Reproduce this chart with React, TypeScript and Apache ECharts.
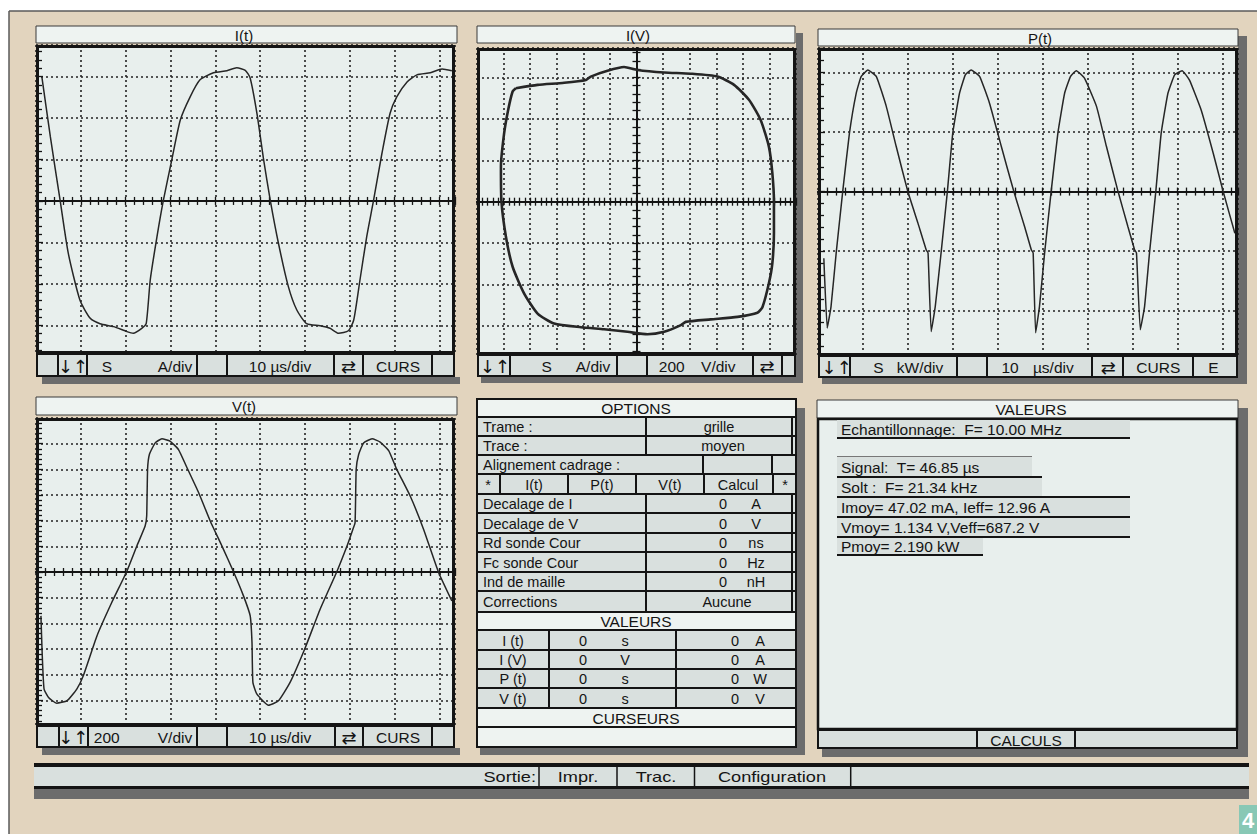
import React, { useEffect, useRef } from "react";
import * as echarts from "echarts";

// ---------------- waveform data ----------------
// I(t): time in µs, current in divisions
const itTime = [1.3, 3.2, 5.4, 7.2, 9.8, 12.1, 14.3, 17.3, 20.3, 21.7, 23.6, 24.6, 25.5, 27.0, 28.4, 30.3, 32.2, 34.4, 36.6, 39.6, 42.6, 44.8, 46.7, 47.8, 49.3, 50.8, 52.3, 54.1, 56.3, 58.2, 60.4, 63.4, 65.6, 67.5, 69.7, 70.9, 72.3, 73.8, 75.3, 77.2, 79.0, 80.5, 82.8, 85.0, 88.0, 90.6, 92.8];
const itCurrent = [3.0, 1.55, 0, -1.26, -2.39, -2.83, -2.96, -3.03, -3.15, -3.19, -3.07, -2.95, -1.9, -0.86, 0, 0.99, 1.95, 2.51, 2.92, 3.09, 3.14, 3.21, 3.15, 2.96, 2.11, 0.99, 0, -1.02, -2.06, -2.63, -2.96, -3.01, -3.07, -3.19, -3.13, -2.87, -1.9, -0.86, 0, 1.15, 2.11, 2.51, 2.87, 3.04, 3.09, 3.18, 3.14];

// V(t): time in µs, voltage in V (200 V/div)
const vtTime = [1.1, 1.4, 1.8, 2.8, 4.6, 6.9, 9.1, 10.6, 13.6, 16.9, 20.3, 22.5, 24.35, 24.7, 24.9, 25.3, 26.6, 28.1, 29.9, 31.8, 33.7, 36.3, 38.9, 41.5, 44.1, 46.3, 47.8, 48.2, 48.4, 49.3, 51.9, 54.1, 56.7, 60.1, 63.4, 67.1, 69.4, 70.7, 71.2, 71.45, 72.0, 73.1, 75.0, 76.8, 78.7, 80.5, 83.5, 86.5, 89.8, 92.8];
const vtVoltage = [-342, -654, -912, -978, -1022, -1004, -912, -804, -498, -238, 8, 202, 358, 436, 800, 916, 1006, 1038, 1020, 954, 812, 618, 396, 202, 0, -186, -342, -550, -860, -952, -1038, -1004, -860, -588, -290, 0, 202, 332, 384, 800, 916, 1006, 1038, 1012, 946, 800, 592, 332, 0, -226];

// P(t): time in µs, power in divisions
const ptTime = [1.3, 2.05, 2.9, 4.05, 5.5, 7.0, 8.5, 9.6, 11.1, 13.0, 15.2, 17.4, 20.0, 22.25, 24.1, 24.5, 25.2, 26.1, 27.4, 28.8, 30.0, 31.5, 32.8, 34.1, 36.0, 38.2, 40.8, 43.6, 46.0, 47.5, 47.9, 48.45, 49.3, 50.45, 51.9, 53.4, 54.9, 56.2, 57.5, 59.35, 62.0, 64.2, 66.8, 69.0, 70.5, 70.9, 71.75, 72.7, 73.8, 75.2, 76.4, 77.9, 79.4, 81.05, 82.7, 85.3, 88.0, 90.2, 92.8];
const ptPower = [-1.12, -2.29, -1.93, -1.03, 0, 0.98, 1.65, 1.93, 2.04, 1.93, 1.43, 0.76, 0, -0.53, -0.98, -1.03, -2.35, -1.93, -1.03, 0, 0.98, 1.65, 1.96, 2.04, 1.93, 1.48, 0.76, 0, -0.59, -0.98, -1.03, -2.37, -1.93, -1.03, 0, 0.98, 1.65, 1.93, 2.03, 1.9, 1.43, 0.76, 0, -0.59, -0.98, -1.03, -2.32, -1.93, -1.03, 0, 0.98, 1.65, 1.96, 2.03, 1.87, 1.37, 0.64, 0, -0.7];

// I(V): voltage in V (200 V/div), current in divisions
const ivVoltage = [-908, -744, -544, -380, -344, -218, -94, 8, 208, 408, 610, 734, 846, 934, 996, 1022, 1034, 1034, 1022, 996, 948, 910, 760, 558, 370, 334, 208, 82, -68, -244, -418, -620, -744, -846, -932, -982, -1016, -1020, -996, -966, -932, -908];
const ivCurrent = [2.74, 2.82, 2.87, 2.94, 3.02, 3.16, 3.25, 3.18, 3.12, 3.09, 3.02, 2.82, 2.46, 1.97, 1.33, 0.69, 0, -0.76, -1.49, -1.97, -2.54, -2.68, -2.78, -2.84, -2.9, -2.98, -3.14, -3.2, -3.14, -3.08, -3.03, -2.94, -2.7, -2.21, -1.57, -0.85, 0, 0.85, 1.65, 2.21, 2.66, 2.74];

// ---------------- texts ----------------
const panelTitles = ["I(t)", "I(V)", "P(t)", "V(t)"];
const statusTexts = [
  ["↓↑", "S", "A/div", "10 µs/div", "⇄", "CURS"],
  ["↓↑", "S", "A/div", "200", "V/div", "⇄"],
  ["↓↑", "S", "kW/div", "10", "µs/div", "⇄", "CURS", "E"],
  ["↓↑", "200", "V/div", "10 µs/div", "⇄", "CURS"],
];
const optionRows = [["Trame :", "grille"], ["Trace :", "moyen"]];
const alignLabel = "Alignement cadrage :";
const alignCells = ["*", "I(t)", "P(t)", "V(t)", "Calcul", "*"];
const offsetRows = [
  ["Decalage de I", "0", "A"],
  ["Decalage de V", "0", "V"],
  ["Rd sonde Cour", "0", "ns"],
  ["Fc sonde Cour", "0", "Hz"],
  ["Ind de maille", "0", "nH"],
];
const correctionRow = ["Corrections", "Aucune"];
const cursorRows = [
  ["I (t)", "0", "s", "0", "A"],
  ["I (V)", "0", "V", "0", "A"],
  ["P (t)", "0", "s", "0", "W"],
  ["V (t)", "0", "s", "0", "V"],
];
const sectionTitles = ["OPTIONS", "VALEURS", "CURSEURS", "VALEURS", "CALCULS"];
const measureLines = [
  "Echantillonnage:  F= 10.00 MHz",
  "Signal:  T= 46.85 µs",
  "Solt :  F= 21.34 kHz",
  "Imoy= 47.02 mA, Ieff= 12.96 A",
  "Vmoy= 1.134 V,Veff=687.2 V",
  "Pmoy= 2.190 kW",
];
const menuItems = ["Sortie:", "Impr.", "Trac.", "Configuration"];
const pageNumber = "4";

// ---------------- styles ----------------
const FONT = '"Liberation Sans", Arial, "DejaVu Sans", sans-serif';
const ARROW_FONT = '"DejaVu Sans", "Noto Sans", sans-serif';
const INK = "#141414";
const SCREEN = "#e8efed";
const PLAIN = "#eef3f1";
const TEXTURE = "#d9e0de";
const SHADOW = "#6c6c6c";
const PAGE = "#e2d4be";

const zip = (a: number[], b: number[]) => a.map((v, i) => [v, b[i]]);

// plot frames (outer rect of the thick border) = grid rects
const frames = [
  { x: 36, y: 45, w: 419, h: 309 },
  { x: 477, y: 48, w: 319, h: 307 },
  { x: 818, y: 48, w: 420, h: 308 },
  { x: 36, y: 418, w: 419, h: 308 },
];

const dotted = { color: "#222222", width: 1.6, type: [2, 3] as any };
const tickStyle = { color: INK, width: 1.3 };

function centerAxis(g: number, min: number, max: number, step: any, position: string, grid: boolean) {
  return {
    type: "value", gridIndex: g, min, max, ...step, position,
    axisLine: { show: true, onZero: true, lineStyle: { color: INK, width: 2 } },
    axisTick: { show: true, length: 4, lineStyle: tickStyle },
    minorTick: { show: true, splitNumber: 5, length: 4, lineStyle: tickStyle },
    axisLabel: { show: false },
    splitLine: { show: grid, lineStyle: dotted },
    minorSplitLine: { show: false },
  };
}
function edgeYAxis(g: number, min: number, max: number, step: any) {
  return {
    type: "value", gridIndex: g, min, max, ...step, position: "left",
    axisLine: { show: false, onZero: true },
    axisTick: { show: true, inside: true, length: 7, lineStyle: tickStyle },
    minorTick: { show: true, splitNumber: 5, length: 6, lineStyle: tickStyle },
    axisLabel: { show: false },
    splitLine: { show: true, lineStyle: dotted },
    minorSplitLine: { show: false },
  };
}
function hiddenYAxis(g: number, min: number, max: number) {
  return { type: "value", gridIndex: g, min, max, position: "right", show: false, axisLine: { onZero: true }, splitLine: { show: false } };
}

function buildGraphics() {
  const g: any[] = [];
  const rect = (x: number, y: number, w: number, h: number, fill: string, z = 1, stroke?: string, lw = 0) =>
    g.push({ type: "rect", silent: true, z, shape: { x, y, width: w, height: h }, style: stroke ? { fill, stroke, lineWidth: lw } : { fill } });
  const line = (x1: number, y1: number, x2: number, y2: number, lw = 1.5, color = INK, z = 120) =>
    g.push({ type: "line", silent: true, z, shape: { x1, y1, x2, y2 }, style: { stroke: color, lineWidth: lw } });
  const text = (x: number, y: number, s: string, size = 15, align = "center", extra: any = {}, color = INK, family = FONT, weight = "normal") =>
    g.push({
      type: "text", silent: true, z: 130, x, y, ...extra,
      style: { text: s, fill: color, fontSize: size, fontFamily: family, fontWeight: weight, align, verticalAlign: "middle", textAlign: align, textVerticalAlign: "middle" },
    });

  // page
  rect(9, 11, 1248, 823, PAGE, -20);
  line(9, 11, 9, 834, 1.5, "#5a5a5a", -19);
  line(9, 11, 1257, 11, 1.5, "#5a5a5a", -19);

  // shadows
  const shadows = [
    [42, 377, 418, 7],
    [796, 33, 7, 350], [481, 377, 322, 6],
    [1238, 36, 9, 348], [822, 378, 425, 6],
    [42, 748, 418, 7],
    [797, 408, 8, 347], [480, 748, 325, 7],
    [1238, 408, 10, 349], [822, 749, 426, 8],
    [34, 789, 1215, 10],
  ];
  shadows.forEach(([x, y, w, h]) => rect(x, y, w, h, SHADOW, -10));

  // title bars of the four scopes
  const titleBars = [
    { x: 36, y: 26, w: 421, h: 17, tx: 244 },
    { x: 477, y: 26, w: 318, h: 17, tx: 638 },
    { x: 818, y: 29, w: 420, h: 17, tx: 1040 },
    { x: 36, y: 397, w: 421, h: 18, tx: 244 },
  ];
  titleBars.forEach((b, i) => {
    rect(b.x, b.y, b.w, b.h, PLAIN, 1, "#3a3a3a", 1);
    text(b.tx, b.y + b.h / 2 + 0.5, panelTitles[i], 15);
  });

  // plot borders
  frames.forEach((f) => g.push({
    type: "rect", silent: true, z: 120,
    shape: { x: f.x + 1.5, y: f.y + 1.5, width: f.w - 3, height: f.h - 3 },
    style: { fill: "none", stroke: INK, lineWidth: 3 },
  }));

  // status bars
  const bars = [
    { y: 354, h: 23, x0: 36, x1: 455, seps: [58, 87, 197, 227, 334, 363, 432], pos: [73, 107, 175, 280, 348.5, 398] },
    { y: 355, h: 22, x0: 477, x1: 796, seps: [510, 617, 647, 753, 782], pos: [495, 546.7, 593, 671.7, 718.3, 767] },
    { y: 356, h: 22, x0: 818, x1: 1238, seps: [850, 957, 987, 1092, 1123, 1193], pos: [836.7, 878.3, 920, 1010, 1053.3, 1108.3, 1158.3, 1213.3] },
    { y: 726, h: 22, x0: 36, x1: 455, seps: [59, 88, 197, 227, 335, 363, 432], pos: [73.3, 106.7, 175, 280, 349, 398] },
  ];
  bars.forEach((b, i) => {
    rect(b.x0, b.y, b.x1 - b.x0, b.h, TEXTURE, 1);
    b.seps.forEach((x) => line(x, b.y, x, b.y + b.h, 2));
    g.push({ type: "rect", silent: true, z: 121, shape: { x: b.x0 + 1, y: b.y, width: b.x1 - b.x0 - 2, height: b.h - 1 }, style: { fill: "none", stroke: INK, lineWidth: 2 } });
    statusTexts[i].forEach((s, k) => {
      const isArrow = s === "↓↑" || s === "⇄";
      text(b.pos[k], b.y + b.h / 2 + 0.5, s, isArrow ? 18 : 15.5, "center", {}, INK, isArrow ? ARROW_FONT : FONT);
    });
  });

  // OPTIONS panel
  const ox0 = 476, ox1 = 797;
  const rowY = [398, 417, 436, 455, 474, 494, 513, 533, 552, 572, 591, 612, 630, 650, 669, 688, 708, 727, 748];
  const plain = [0, 11, 16, 17];
  for (let i = 0; i < rowY.length - 1; i++) {
    rect(ox0, rowY[i], ox1 - ox0, rowY[i + 1] - rowY[i], plain.includes(i) ? PLAIN : TEXTURE, 1);
    if (i > 0) line(ox0, rowY[i], ox1, rowY[i], 2);
  }
  const cy = (i: number) => (rowY[i] + rowY[i + 1]) / 2 + 0.5;
  const vsep = (rows: number[], xs: number[]) => rows.forEach((r) => xs.forEach((x) => line(x, rowY[r], x, rowY[r + 1], 2)));
  vsep([1, 2, 5, 6, 7, 8, 9, 10], [646, 792]);
  vsep([3], [703, 772]);
  vsep([4], [500, 568, 636, 704, 773]);
  vsep([12, 13, 14, 15], [549, 676]);
  g.push({ type: "rect", silent: true, z: 121, shape: { x: ox0 + 1, y: 399, width: ox1 - ox0 - 2, height: 348 }, style: { fill: "none", stroke: INK, lineWidth: 2 } });
  text(636, cy(0), sectionTitles[0], 15.5);
  optionRows.forEach(([a, b], k) => {
    text(483, cy(1 + k), a, 14.5, "left");
    text(k === 0 ? 719 : 723, cy(1 + k), b, 14.5);
  });
  text(483, cy(3), alignLabel, 14.5, "left");
  [488, 534, 602, 670, 738, 785].forEach((x, k) => text(x, cy(4), alignCells[k], 14.5));
  offsetRows.forEach(([a, b, c], k) => {
    text(483, cy(5 + k), a, 14.5, "left");
    text(723, cy(5 + k), b, 14.5);
    text(756, cy(5 + k), c, 14.5);
  });
  text(483, cy(10), correctionRow[0], 14.5, "left");
  text(727, cy(10), correctionRow[1], 14.5);
  text(636, cy(11), sectionTitles[1], 15.5);
  cursorRows.forEach((r, k) => {
    [513, 583, 625, 735, 760].forEach((x, j) => text(x, cy(12 + k), r[j], 14.5));
  });
  text(636, cy(16), sectionTitles[2], 15.5);

  // VALEURS panel
  rect(817, 400, 421, 18, PLAIN, 1, "#3a3a3a", 1);
  text(1031, 409.5, sectionTitles[3], 15.5);
  g.push({ type: "rect", silent: true, z: 2, shape: { x: 818, y: 419, width: 419, height: 310 }, style: { fill: SCREEN, stroke: INK, lineWidth: 2.5 } });
  const strips = [
    { y: 420, h: 18, w: 293, uw: 293 },
    { y: 457, h: 20, w: 195, uw: 205 },
    { y: 477, h: 20, w: 205, uw: 293 },
    { y: 497, h: 20, w: 293, uw: 293 },
    { y: 517, h: 20, w: 293, uw: 293 },
    { y: 537, h: 18, w: 146, uw: 146 },
  ];
  strips.forEach((s, k) => {
    rect(837, s.y, s.w, s.h, TEXTURE, 3);
    line(837, s.y + s.h, 837 + s.uw, s.y + s.h, 2);
    text(841, s.y + s.h / 2 + 0.5, measureLines[k], 15.5, "left");
  });
  line(837, 456.5, 1032, 456.5, 1, "#777");
  // CALCULS bar
  rect(817, 730, 421, 19, TEXTURE, 1);
  line(977, 730, 977, 749, 2);
  line(1075, 730, 1075, 749, 2);
  g.push({ type: "rect", silent: true, z: 121, shape: { x: 818, y: 730, width: 419, height: 18 }, style: { fill: "none", stroke: INK, lineWidth: 2 } });
  text(1026, 740, sectionTitles[4], 15.5);

  // bottom menu bar
  rect(34, 767, 1215, 19, TEXTURE, 1);
  rect(34, 763, 1215, 4, INK, 2);
  rect(34, 786, 1215, 3, INK, 2);
  [539, 617, 694.5, 850.7].forEach((x) => line(x, 767, x, 786, 1.5));
  const menuPos = [[536, "right"], [578, "center"], [656, "center"], [772, "center"]];
  menuItems.forEach((s, k) => text(menuPos[k][0] as number, 776.5, s, 14, menuPos[k][1] as string, { scaleX: 1.3 }));

  // page number badge
  rect(1239, 805, 18, 29, "#88c8b5", 1);
  text(1248, 820, pageNumber, 22, "center", {}, "#ffffff", FONT, "bold");
  return g;
}

function buildOption(): any {
  const grids = frames.map((f) => ({
    left: f.x, top: f.y, width: f.w, height: f.h,
    show: true, backgroundColor: SCREEN, borderWidth: 0, containLabel: false,
  }));
  const xAxis = [
    centerAxis(0, 0, 93.5, { interval: 10 }, "bottom", true),
    centerAxis(0, 0, 93.5, { interval: 10 }, "top", false),
    centerAxis(1, -1200, 1200, { interval: 200 }, "bottom", true),
    centerAxis(1, -1200, 1200, { interval: 200 }, "top", false),
    centerAxis(2, 0, 93.5, { interval: 10 }, "bottom", true),
    centerAxis(2, 0, 93.5, { interval: 10 }, "top", false),
    centerAxis(3, 0, 93.5, { interval: 10 }, "bottom", true),
    centerAxis(3, 0, 93.5, { interval: 10 }, "top", false),
  ];
  const yAxis = [
    edgeYAxis(0, -3.69, 3.76, { splitNumber: 7 }),
    hiddenYAxis(0, -3.69, 3.76),
    centerAxis(1, -3.7, 3.71, { splitNumber: 7 }, "left", true),
    centerAxis(1, -3.7, 3.71, { splitNumber: 7 }, "right", false),
    edgeYAxis(2, -2.76, 2.41, { splitNumber: 5 }),
    hiddenYAxis(2, -2.76, 2.41),
    edgeYAxis(3, -1200, 1200, { interval: 200 }),
    hiddenYAxis(3, -1200, 1200),
  ];
  const lineSeries = (xi: number, data: number[][], width: number, smooth: number) => ({
    type: "line", xAxisIndex: xi, yAxisIndex: xi, data, showSymbol: false, symbol: "none",
    smooth, lineStyle: { color: "#262626", width }, z: 5,
  });
  return {
    animation: false,
    backgroundColor: "#ffffff",
    grid: grids,
    xAxis,
    yAxis,
    series: [
      lineSeries(0, zip(itTime, itCurrent), 1.5, 0.2),
      lineSeries(2, zip(ivVoltage, ivCurrent), 2.6, 0.2),
      lineSeries(4, zip(ptTime, ptPower), 1.5, 0.12),
      lineSeries(6, zip(vtTime, vtVoltage), 1.5, 0.15),
    ],
    graphic: { elements: buildGraphics() },
  };
}

export default function App() {
  const ref = useRef<HTMLDivElement>(null);
  useEffect(() => {
    const chart = echarts.init(ref.current as HTMLDivElement, null, { renderer: "svg" });
    chart.setOption(buildOption());
    return () => chart.dispose();
  }, []);
  return <div ref={ref} style={{ position: "absolute", left: 0, top: 0, width: 1257, height: 834 }} />;
}
